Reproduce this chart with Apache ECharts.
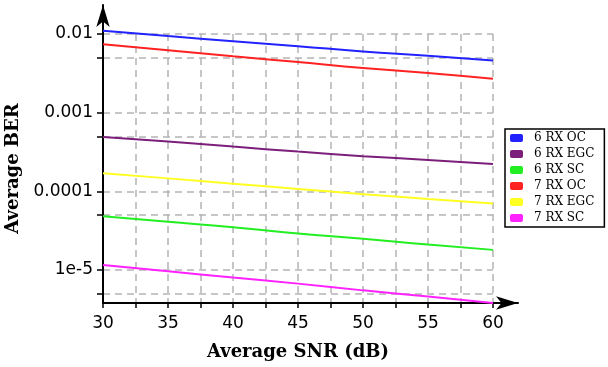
<!DOCTYPE html>
<html>
<head>
<meta charset="utf-8">
<script src="https://cdn.jsdelivr.net/npm/echarts@6/dist/echarts.min.js"></script>
<style>
  html, body { margin: 0; padding: 0; background: #fff; }
  #main { width: 608px; height: 367px; }
</style>
</head>
<body>
<div id="main"></div>
<script>
// SNR points (dB)
var snr = [30, 35, 40, 45, 50, 55, 60]
// BER curves
var rx6OC = [0.0110, 0.0094, 0.0081, 0.0070, 0.0060, 0.0053, 0.0046]
var rx6EGC = [0.00049, 0.00043, 0.00037, 0.00032, 0.00028, 0.00025, 0.000222]
var rx6SC = [4.8e-5, 4.1e-5, 3.5e-5, 2.9e-5, 2.5e-5, 2.1e-5, 1.8e-5]
var rx7OC = [0.0074, 0.0062, 0.0052, 0.0044, 0.0037, 0.0032, 0.0027]
var rx7EGC = [0.00017, 0.000146, 0.000125, 0.000107, 0.000092, 0.00008, 0.00007]
var rx7SC = [1.16e-5, 9.6e-6, 8.0e-6, 6.7e-6, 5.5e-6, 4.6e-6, 3.8e-6]

// axis ticks / labels
var xLabels = [30, 35, 40, 45, 50, 55, 60]
var yTicks = [0.01, 0.005, 0.001, 0.0005, 0.0001, 0.00005, 0.00001, 0.000005]
var yLabels = [0.01, 0.001, 0.0001, 0.00001]
var yLabelText = ['0.01', '0.001', '0.0001', '1e-5']

function pairs(ys) {
  return snr.map(function (x, i) { return [x, ys[i]] })
}

var gridDash = { color: '#b4b4b4', width: 1.5, type: [7, 5] }

function line(name, data, color) {
  return {
    name: name,
    type: 'line',
    data: pairs(data),
    smooth: true,
    symbol: 'none',
    clip: false,
    lineStyle: { color: color, width: 2 },
    itemStyle: { color: color },
  }
}

var arrowLine = {
  show: true,
  onZero: false,
  symbol: ['none', 'arrow'],
  symbolSize: [10, 22],
  lineStyle: { color: '#000', width: 2 },
}

var option = {
  backgroundColor: '#fff',
  animation: false,
  grid: [
    { left: 103, right: 115, top: 34, bottom: 64, outerBoundsMode: 'none' },
    // only for the arrowed axis lines
    { left: 103, right: 90, top: 5, bottom: 64, outerBoundsMode: 'none' },
  ],
  legend: {
    orient: 'vertical',
    left: 505,
    top: 129,
    padding: [3, 10, 3, 5],
    itemGap: 4,
    itemWidth: 13,
    itemHeight: 8,
    icon: 'roundRect',
    borderColor: '#000',
    borderWidth: 1.5,
    textStyle: {
      fontFamily: 'DejaVu Serif',
      fontSize: 12,
      color: '#000',
      lineHeight: 12,
      padding: [0, 0, 0, 6],
    },
    data: ['6 RX OC', '6 RX EGC', '6 RX SC', '7 RX OC', '7 RX EGC', '7 RX SC'],
  },
  xAxis: [
    {
      gridIndex: 0,
      type: 'value',
      min: 30,
      max: 60,
      interval: 2.5,
      name: 'Average SNR (dB)',
      nameLocation: 'middle',
      nameGap: 40,
      nameTextStyle: { fontFamily: 'DejaVu Serif', fontWeight: 'bold', fontSize: 18, color: '#000' },
      axisLine: { show: false },
      axisTick: { show: true, length: 5, lineStyle: { color: '#000', width: 1.5 } },
      axisLabel: {
        customValues: xLabels,
        margin: 12,
        fontFamily: 'DejaVu Sans',
        fontSize: 17,
        color: '#000',
      },
      splitLine: { show: true, lineStyle: gridDash },
    },
    {
      gridIndex: 1,
      type: 'value',
      min: 0,
      max: 1,
      axisLine: arrowLine,
      axisTick: { show: false },
      axisLabel: { show: false },
      splitLine: { show: false },
    },
  ],
  yAxis: [
    {
      gridIndex: 0,
      type: 'log',
      logBase: 10,
      min: 3.8e-6,
      max: 0.01,
      name: 'Average BER',
      nameLocation: 'middle',
      nameGap: 74,
      nameTextStyle: { fontFamily: 'DejaVu Serif', fontWeight: 'bold', fontSize: 18, color: '#000' },
      axisLine: { show: false },
      axisTick: { show: true, customValues: yTicks, length: 6, lineStyle: { color: '#000', width: 1.5 } },
      axisLabel: {
        customValues: yLabels,
        margin: 10,
        fontFamily: 'DejaVu Sans',
        fontSize: 17,
        color: '#000',
        formatter: function (v) {
          for (var i = 0; i < yLabels.length; i++) {
            if (Math.abs(Math.log10(v) - Math.log10(yLabels[i])) < 1e-6) return yLabelText[i]
          }
          return ''
        },
      },
      splitLine: { show: true, lineStyle: gridDash },
    },
    {
      gridIndex: 1,
      type: 'value',
      min: 0,
      max: 1,
      axisLine: arrowLine,
      axisTick: { show: false },
      axisLabel: { show: false },
      splitLine: { show: false },
    },
  ],
  series: [
    line('6 RX OC', rx6OC, '#2222ff'),
    line('6 RX EGC', rx6EGC, '#7b1f7b'),
    line('6 RX SC', rx6SC, '#22ee22'),
    line('7 RX OC', rx7OC, '#ff2222'),
    line('7 RX EGC', rx7EGC, '#ffff22'),
    line('7 RX SC', rx7SC, '#ff22ff'),
  ],
}

var myChart = echarts.init(document.getElementById('main'))
myChart.setOption(option)
</script>
</body>
</html>
